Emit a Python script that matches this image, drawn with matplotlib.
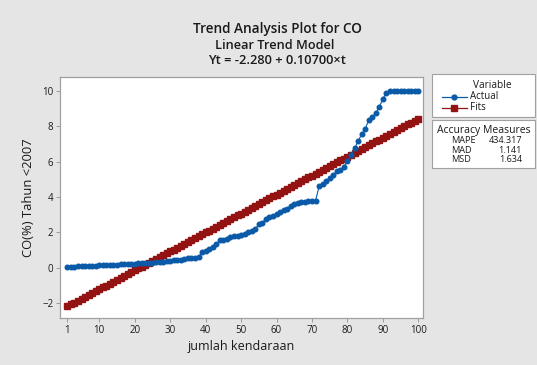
import matplotlib
matplotlib.use("Agg")
import matplotlib.pyplot as plt
from matplotlib.lines import Line2D
from matplotlib.patches import Rectangle

plt.rcParams['font.family'] = ['Open Sans', 'DejaVu Sans']

t = list(range(1, 101))
actual = [0.05, 0.06, 0.07, 0.08, 0.09, 0.10, 0.11, 0.12, 0.13, 0.14,
          0.15, 0.16, 0.17, 0.18, 0.19, 0.20, 0.21, 0.22, 0.23, 0.24,
          0.25, 0.26, 0.27, 0.28, 0.30, 0.32, 0.34, 0.36, 0.38, 0.40,
          0.42, 0.44, 0.46, 0.50, 0.54, 0.56, 0.58, 0.60, 0.90, 0.95,
          1.05, 1.18, 1.35, 1.55, 1.60, 1.65, 1.72, 1.78, 1.82, 1.86,
          1.92, 2.00, 2.08, 2.20, 2.45, 2.55, 2.75, 2.85, 2.95, 3.05,
          3.15, 3.25, 3.35, 3.50, 3.60, 3.65, 3.70, 3.72, 3.75, 3.78,
          3.80, 4.60, 4.75, 4.90, 5.05, 5.25, 5.45, 5.55, 5.70, 6.05,
          6.35, 6.75, 7.15, 7.55, 7.85, 8.35, 8.50, 8.75, 9.10, 9.55,
          9.90, 10.0, 10.0, 10.0, 10.0, 10.0, 10.0, 10.0, 10.0, 10.0]
fits = [-2.173, -2.066, -1.959, -1.852, -1.745, -1.638, -1.531, -1.424, -1.317, -1.210,
        -1.103, -0.996, -0.889, -0.782, -0.675, -0.568, -0.461, -0.354, -0.247, -0.140,
        -0.033, 0.074, 0.181, 0.288, 0.395, 0.502, 0.609, 0.716, 0.823, 0.930,
        1.037, 1.144, 1.251, 1.358, 1.465, 1.572, 1.679, 1.786, 1.893, 2.000,
        2.107, 2.214, 2.321, 2.428, 2.535, 2.642, 2.749, 2.856, 2.963, 3.070,
        3.177, 3.284, 3.391, 3.498, 3.605, 3.712, 3.819, 3.926, 4.033, 4.140,
        4.247, 4.354, 4.461, 4.568, 4.675, 4.782, 4.889, 4.996, 5.103, 5.210,
        5.317, 5.424, 5.531, 5.638, 5.745, 5.852, 5.959, 6.066, 6.173, 6.280,
        6.387, 6.494, 6.601, 6.708, 6.815, 6.922, 7.029, 7.136, 7.243, 7.350,
        7.457, 7.564, 7.671, 7.778, 7.885, 7.992, 8.099, 8.206, 8.313, 8.420]
x_ticks = [1, 10, 20, 30, 40, 50, 60, 70, 80, 90, 100]
y_ticks = [-2, 0, 2, 4, 6, 8, 10]
measure_names = ["MAPE", "MAD", "MSD"]
measure_values = ["434.317", "1.141", "1.634"]

W, H = 537, 365
bg = '#e5e5e5'
blue = '#0b5aa8'
red = '#931313'
txt = '#1a1a1a'

fig = plt.figure(figsize=(W / 100, H / 100), dpi=100, facecolor=bg)
ax = fig.add_axes([60.3 / W, 1 - 318 / H, (423 - 60.3) / W, (318 - 77.3) / H])
ax.set_facecolor('white')

ax.plot(t, fits, color=red, lw=1.0, marker='s', ms=4.0, mec=red, mfc=red, zorder=3)
ax.plot(t, actual, color=blue, lw=0.8, marker='o', ms=3.3, mec=blue, mfc=blue, zorder=4)

ax.set_xlim(-0.98, 101.3)
ax.set_ylim(-2.83, 10.76)
ax.set_xticks(x_ticks)
ax.set_yticks(y_ticks)
ax.tick_params(labelsize=7, colors='#9a9a9a', labelcolor=txt, length=3, width=0.7, pad=2)
for s in ax.spines.values():
    s.set_color('#a0a0a0')
    s.set_linewidth(0.9)

ax.set_xlabel("jumlah kendaraan", fontsize=9, color=txt, labelpad=3)
ax.set_ylabel("CO(%) Tahun <2007", fontsize=9.4, color=txt, labelpad=5)

def fx(px):
    return px / W

def fy(py):
    return 1 - py / H

fig.text(fx(277), fy(29), "Trend Analysis Plot for CO", fontsize=9.8, fontweight='semibold',
         ha='center', va='center', color=txt)
fig.text(fx(275), fy(45.5), "Linear Trend Model", fontsize=9.2, fontweight='semibold',
         ha='center', va='center', color=txt)
fig.text(fx(277), fy(61), "Yt = -2.280 + 0.10700×t", fontsize=9.3, fontweight='semibold',
         ha='center', va='center', color=txt)

# legend boxes
fig.patches.append(Rectangle((fx(432), fy(116.7)), (535 - 432) / W, (116.7 - 73.5) / H,
                             transform=fig.transFigure, facecolor='white', edgecolor='#a0a0a0', lw=0.8))
fig.patches.append(Rectangle((fx(432), fy(168.3)), (535 - 432) / W, (168.3 - 120) / H,
                             transform=fig.transFigure, facecolor='white', edgecolor='#a0a0a0', lw=0.8))
fig.text(fx(492), fy(85.5), "Variable", fontsize=7.3, ha='center', va='center', color=txt)
fig.lines.append(Line2D([fx(441.5), fx(467)], [fy(96.5), fy(96.5)], transform=fig.transFigure,
                        color=blue, lw=0.9))
fig.lines.append(Line2D([fx(454)], [fy(96.5)], transform=fig.transFigure,
                        color=blue, marker='o', ms=3.5, ls='none'))
fig.text(fx(470), fy(96.5), "Actual", fontsize=7.0, ha='left', va='center', color=txt)
fig.lines.append(Line2D([fx(441.5), fx(467)], [fy(108), fy(108)], transform=fig.transFigure,
                        color=red, lw=0.9))
fig.lines.append(Line2D([fx(454)], [fy(108)], transform=fig.transFigure,
                        color=red, marker='s', ms=3.8, ls='none'))
fig.text(fx(470), fy(108), "Fits", fontsize=7.0, ha='left', va='center', color=txt)

fig.text(fx(484), fy(130), "Accuracy Measures", fontsize=7.5, ha='center', va='center', color=txt)
for i, (n, v) in enumerate(zip(measure_names, measure_values)):
    yy = 140.7 + i * 9.4
    fig.text(fx(451.5), fy(yy), n, fontsize=6.6, ha='left', va='center', color=txt)
    fig.text(fx(522), fy(yy), v, fontsize=6.5, ha='right', va='center', color=txt)

fig.savefig("out.png", dpi=100, facecolor=bg)
